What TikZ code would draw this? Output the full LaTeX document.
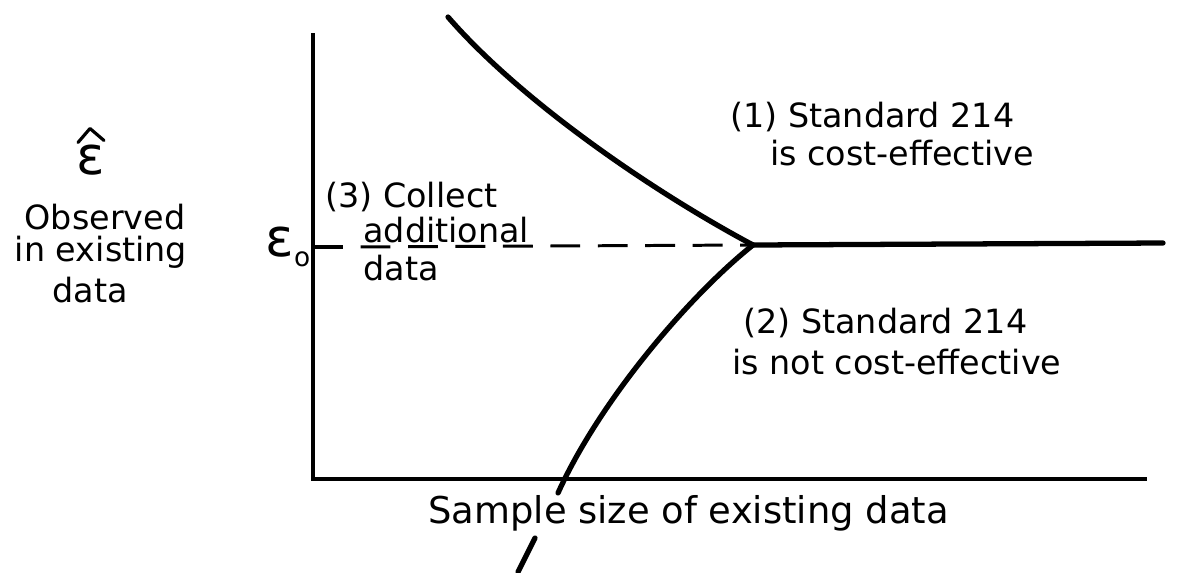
\documentclass[tikz,border=0pt]{standalone}
\usepackage{fontspec}
\setmainfont{DejaVu Sans}
\usepackage{tikz}
\usetikzlibrary{positioning}
\tikzstyle{note} = [inner sep=0pt, anchor=west, font=\fontsize{19}{20}\selectfont]
\tikzstyle{axislabel} = [inner sep=0pt, font=\fontsize{19}{20}\selectfont]
\tikzstyle{symbol} = [inner sep=0pt, font=\fontsize{30}{30}\selectfont]
\tikzstyle{axisline} = [line width=1.8pt]
\tikzstyle{bound} = [line width=3pt, line cap=round]
\tikzstyle{level} = [line width=1.7pt, dash pattern=on 17pt off 10pt, dash phase=17pt]

\begin{document}
\begin{tikzpicture}[x=0.02cm, y=-0.02cm]
        \useasboundingbox (0,0) rectangle (1203,572);
        % Points
        \coordinate (origin) at (313,479);
        \coordinate (ytop) at (313,33);
        \coordinate (xend) at (1147,479);
        \coordinate (tick) at (343,247);
        \coordinate (meet) at (753,245);
        \coordinate (upper) at (448,17);
        \coordinate (lower) at (558,493);
        \coordinate (tailtop) at (535,538);
        \coordinate (tailend) at (518,572);
        \coordinate (right) at (1163,243);

        % Labels
        \node (epshat) [symbol] at (91,160) {ε};
        \node (obs) [axislabel] at (105,217) {Observed};
        \node (inex) [axislabel] at (101,252) {in existing};
        \node (ydata) [axislabel] at (90,290) {data};
        \node (eps0) [symbol] at (288,247) {ε\raisebox{-6pt}{\fontsize{15}{15}\selectfont o}};
        \node (collect) [note] at (325,197) {(3) Collect};
        \node (addl) [note] at (363,230) {additional};
        \node (more) [note] at (363,268) {data};
        \node (std1) [note] at (730,117) {(1) Standard 214};
        \node (eff) [note] at (770,153) {is cost-effective};
        \node (std2) [note] at (743,323) {(2) Standard 214};
        \node (noteff) [note] at (732,362) {is not cost-effective};
        \node (xlabel) [note, font=\fontsize{21}{21}\selectfont] at (428,513) {Sample size of existing data};

        % Hat over the estimate
        \draw [axisline, line join=round, line cap=round] ([shift={(-13,-2)}]epshat.north) -- ([shift={(-1,-16)}]epshat.north) -- ([shift={(13,-4)}]epshat.north);

        % Axes
        \draw [axisline] (ytop) -- (origin) -- (xend);
        \draw [axisline] (origin |- tick) -- (tick);
        \draw [level] (tick) -- (meet);

        % Boundaries
        \draw [bound] (upper) .. controls (520,100) and (650,190) .. (meet);
        \draw [bound] (meet) .. controls (690,295) and (600,400) .. (lower);
        \draw [bound] (tailtop) -- (tailend);
        \draw [bound] (meet) -- (right);
    \end{tikzpicture}
\end{document}
